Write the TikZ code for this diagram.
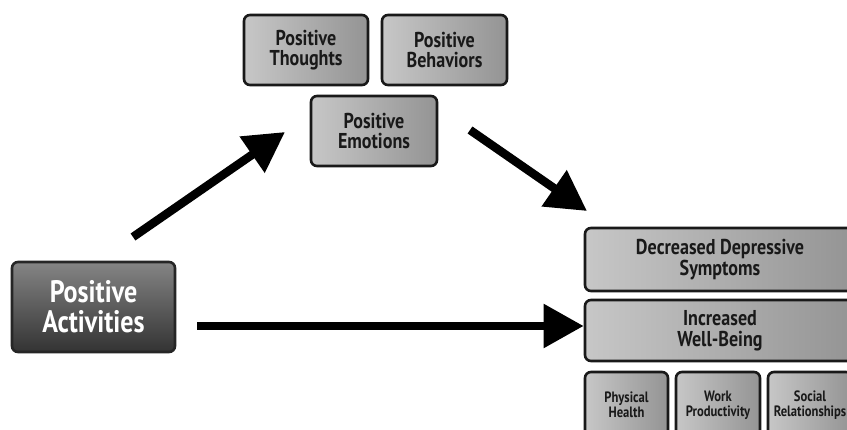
\documentclass[tikz,border=0pt]{standalone}
\usepackage{fontspec}
\setmainfont{PT Sans}[FakeStretch=0.84]
\usetikzlibrary{arrows.meta}
\begin{document}
\begin{tikzpicture}[x=1pt,y=-1pt,
  box/.style={draw=black!90,line width=2.6pt,rounded corners=6pt,
    left color=black!22,right color=black!42,
    align=center,font=\bfseries,inner sep=0pt,text=black!90},
  darkbox/.style={draw=black!85,line width=2.6pt,rounded corners=6pt,
    top color=black!48,bottom color=black!80,
    align=center,font=\bfseries\fontsize{31}{30}\selectfont,inner sep=0pt,text=white},
  bigarrow/.style={line width=8.5pt,-{Triangle[length=40pt,width=42pt]}}]
\clip (0,0) rectangle (847,430);
\fill[white] (0,0) rectangle (847,430);
% left
\node[darkbox,minimum width=163pt,minimum height=90pt] (pa) at (93.5,307) {Positive\\Activities};
% top
\node[box,minimum width=124pt,minimum height=70pt,font=\bfseries\fontsize{21.5}{20.5}\selectfont] (pt) at (306,50) {Positive\\Thoughts};
\node[box,minimum width=125pt,minimum height=70pt,font=\bfseries\fontsize{21.5}{20.5}\selectfont] (pb) at (444.5,50) {Positive\\Behaviors};
\node[box,minimum width=126pt,minimum height=70pt,font=\bfseries\fontsize{21.5}{20.5}\selectfont] (pe) at (374,131) {Positive\\Emotions};
% right
\node[box,minimum width=270pt,minimum height=63pt,font=\bfseries\fontsize{21.5}{21}\selectfont] (dd) at (720,259.5) {Decreased Depressive\\Symptoms};
\node[box,minimum width=270pt,minimum height=61pt,font=\bfseries\fontsize{21.5}{21}\selectfont] (wb) at (720,330.5) {Increased\\Well-Being};
\node[box,minimum width=83pt,minimum height=66pt,font=\bfseries\fontsize{15}{15}\selectfont] (ph) at (626.5,405) {Physical\\Health};
\node[box,minimum width=84pt,minimum height=66pt,font=\bfseries\fontsize{15}{15}\selectfont] (wp) at (718,405) {Work\\Productivity};
\node[box,minimum width=84pt,minimum height=66pt,font=\bfseries\fontsize{15}{15}\selectfont] (sr) at (810,405) {Social\\Relationships};
% arrows
\coordinate (a1s) at (133,237);
\coordinate (a1e) at (285,132);
\coordinate (a2s) at (470,130);
\coordinate (a2e) at (587,211);
\coordinate (a3s) at (197,326);
\draw[bigarrow] (a1s) -- (a1e);
\draw[bigarrow] (a2s) -- (a2e);
\draw[bigarrow] (a3s) -- (a3s -| wb.west);
\end{tikzpicture}
\end{document}
